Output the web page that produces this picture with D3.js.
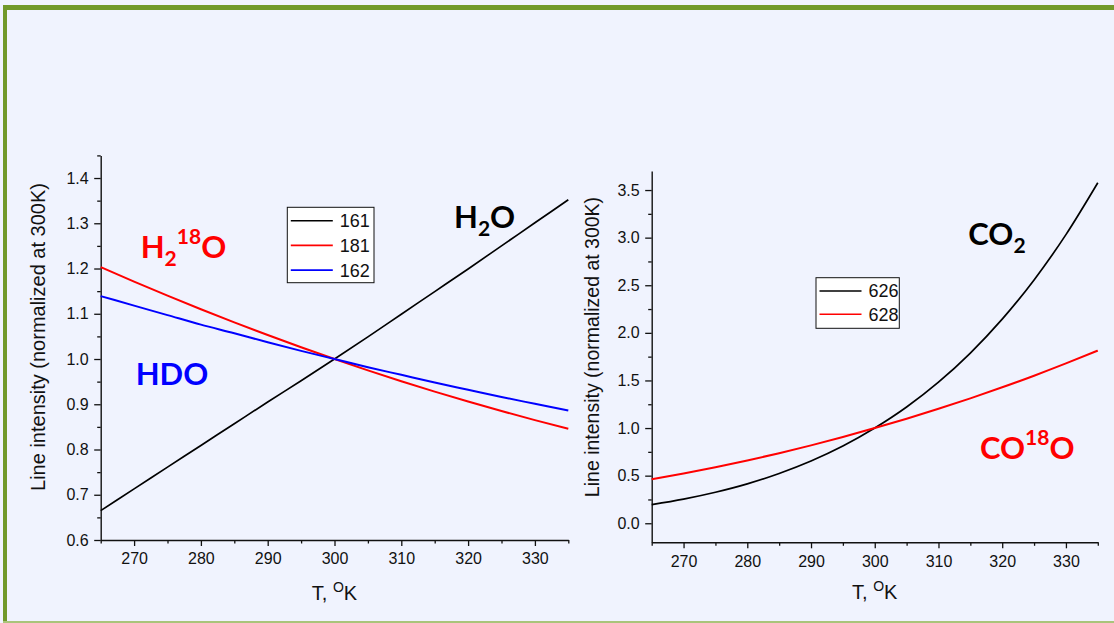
<!DOCTYPE html>
<html>
<head>
<meta charset="utf-8">
<script src="https://cdn.jsdelivr.net/npm/d3@7"></script>
<style>
  html, body { margin: 0; padding: 0; background: #f0f3fe; }
  svg { display: block; }
</style>
</head>
<body>
<svg id="chart" width="1114" height="623"></svg>
<script>
// Temperature grid, K
const temperature = [265, 270, 275, 280, 285, 290, 295, 300, 305, 310, 315, 320, 325, 330, 335];

// Water isotopologues, line intensity normalized at 300 K
const h2o161 = [0.665, 0.713, 0.761, 0.809, 0.857, 0.905, 0.952, 1.000, 1.049, 1.099, 1.149, 1.199, 1.250, 1.301, 1.352];
const h2o181 = [1.203, 1.171, 1.140, 1.110, 1.081, 1.053, 1.026, 1.000, 0.975, 0.951, 0.928, 0.906, 0.885, 0.865, 0.846];
const h2o162 = [1.139, 1.118, 1.097, 1.076, 1.057, 1.037, 1.018, 1.000, 0.982, 0.965, 0.948, 0.932, 0.916, 0.901, 0.886];

// Carbon dioxide isotopologues, line intensity normalized at 300 K
const co2626 = [0.196, 0.254, 0.326, 0.414, 0.523, 0.654, 0.811, 1.000, 1.221, 1.482, 1.788, 2.144, 2.556, 3.032, 3.577];
const co2628 = [0.463, 0.523, 0.588, 0.659, 0.736, 0.818, 0.906, 1.000, 1.098, 1.202, 1.312, 1.428, 1.550, 1.679, 1.814];

// Axis ticks
const xMajor = [270, 280, 290, 300, 310, 320, 330];
const xMinor = [265, 275, 285, 295, 305, 315, 325, 335];
const yMajorH2O = [0.6, 0.7, 0.8, 0.9, 1.0, 1.1, 1.2, 1.3, 1.4];
const yMinorH2O = [0.65, 0.75, 0.85, 0.95, 1.05, 1.15, 1.25, 1.35, 1.45];
const yMajorCO2 = [0.0, 0.5, 1.0, 1.5, 2.0, 2.5, 3.0, 3.5];
const yMinorCO2 = [0.25, 0.75, 1.25, 1.75, 2.25, 2.75, 3.25];

// Legend entries
const legendH2O = ["161", "181", "162"];
const legendCO2 = ["626", "628"];

const SANS = "'Liberation Sans', Arial, sans-serif";
const svg = d3.select("#chart");

// Slide background and frame
svg.append("rect").attr("x", 0).attr("y", 0).attr("width", 1114).attr("height", 623).attr("fill", "#f0f3fe");
svg.append("rect").attr("x", 3).attr("y", 5).attr("width", 1111).attr("height", 5).attr("fill", "#71992b");
svg.append("rect").attr("x", 3).attr("y", 5).attr("width", 4).attr("height", 618).attr("fill", "#71992b");
svg.append("rect").attr("x", 3).attr("y", 621).attr("width", 1111).attr("height", 2).attr("fill", "#a9c47a");

function drawPanel(cfg) {
  const g = svg.append("g");
  const x = d3.scaleLinear().domain([265, 335]).range(cfg.xRange);
  const y = d3.scaleLinear().domain(cfg.yDomain).range(cfg.yRange);
  const y0 = cfg.yRange[0];
  const x0 = cfg.xRange[0];

  // minor ticks
  g.append("g").attr("transform", `translate(0,${y0})`)
    .call(d3.axisBottom(x).tickValues(xMinor).tickSize(3.5).tickFormat("").tickSizeOuter(0))
    .call(a => a.select(".domain").remove());
  g.append("g").attr("transform", `translate(${x0},0)`)
    .call(d3.axisLeft(y).tickValues(cfg.yMinor).tickSize(3.5).tickFormat("").tickSizeOuter(0))
    .call(a => a.select(".domain").remove());

  // major ticks and labels
  const ax = g.append("g").attr("transform", `translate(0,${y0})`)
    .call(d3.axisBottom(x).tickValues(xMajor).tickSize(6).tickPadding(7).tickSizeOuter(0));
  const ay = g.append("g").attr("transform", `translate(${x0},0)`)
    .call(d3.axisLeft(y).tickValues(cfg.yMajor).tickSize(6.5).tickPadding(5.5).tickFormat(d3.format(".1f")).tickSizeOuter(0));
  [ax, ay].forEach(a => {
    a.selectAll("text").style("font-size", "16px").style("font-family", SANS).attr("fill", "#111");
    a.select(".domain").attr("stroke", "#111").attr("stroke-width", 1.4);
  });
  g.selectAll("line").attr("stroke", "#111").attr("stroke-width", 1.3);

  // axis titles
  const xt = g.append("text")
    .attr("x", x(300)).attr("y", cfg.xTitleY)
    .attr("text-anchor", "middle").style("font-size", "20px").style("font-family", SANS).attr("fill", "#111");
  xt.append("tspan").text("T, ");
  xt.append("tspan").style("font-size", "14px").attr("dy", -8).text("O");
  xt.append("tspan").attr("dy", 8).text("K");

  g.append("text")
    .attr("transform", `translate(${cfg.yTitleX},${cfg.yTitleY}) rotate(-90)`)
    .attr("text-anchor", "middle").style("font-size", cfg.yTitleSize + "px").style("font-family", SANS)
    .attr("fill", "#111")
    .text("Line intensity (normalized at 300K)");

  // series
  const line = d3.line().x((d, i) => x(temperature[i])).y(d => y(d)).curve(d3.curveMonotoneX);
  cfg.series.forEach(s => {
    g.append("path").datum(s.values)
      .attr("d", line)
      .attr("fill", "none").attr("stroke", s.color).attr("stroke-width", s.width);
  });

  // legend
  const L = cfg.legend;
  g.append("rect").attr("x", L.x).attr("y", L.y).attr("width", L.w).attr("height", L.h)
    .attr("fill", "#ffffff").attr("stroke", "#111").attr("stroke-width", 1);
  cfg.series.forEach((s, i) => {
    const cy = L.firstRow + i * L.step;
    g.append("line").attr("x1", L.x + 3.5).attr("x2", L.x + 3.5 + 42)
      .attr("y1", cy).attr("y2", cy).attr("stroke", s.color).attr("stroke-width", 1.6);
    g.append("text").attr("x", L.x + 52.5).attr("y", cy).attr("dy", "0.36em")
      .style("font-size", "18px").style("font-family", SANS).attr("fill", "#111").text(s.name);
  });
}

drawPanel({
  xRange: [100.7, 568.3],
  yDomain: [0.6, 1.45],
  yRange: [540, 155.4],
  yMajor: yMajorH2O,
  yMinor: yMinorH2O,
  xTitleY: 600,
  yTitleX: 45,
  yTitleY: 337,
  yTitleSize: 20,
  series: [
    { name: legendH2O[0], values: h2o161, color: "#000000", width: 1.7 },
    { name: legendH2O[1], values: h2o181, color: "#ff0000", width: 2 },
    { name: legendH2O[2], values: h2o162, color: "#0000ff", width: 2 }
  ],
  legend: { x: 287.3, y: 207.3, w: 86.7, h: 75.4, firstRow: 220.7, step: 24.7 }
});

drawPanel({
  xRange: [651.7, 1097.8],
  yDomain: [-0.2, 3.7],
  yRange: [542.3, 171],
  yMajor: yMajorCO2,
  yMinor: yMinorCO2,
  xTitleY: 599,
  yTitleX: 599,
  yTitleY: 347,
  yTitleSize: 19.5,
  series: [
    { name: legendCO2[0], values: co2626, color: "#000000", width: 1.7 },
    { name: legendCO2[1], values: co2628, color: "#ff0000", width: 2 }
  ],
  legend: { x: 816, y: 277.7, w: 83.3, h: 50.6, firstRow: 291, step: 23.3 }
});

// Molecule labels
function formula(x, y, color, parts) {
  const t = svg.append("text").attr("x", x).attr("y", y)
    .attr("fill", color)
    .style("font-weight", "bold").style("font-family", "Lato, 'Open Sans', sans-serif").style("font-size", "31px");
  let shift = 0;
  parts.forEach(p => {
    const target = p.sub ? 8 : p.sup ? -14 : 0;
    const ts = t.append("tspan").attr("dy", target - shift).text(p.t);
    if (p.sub || p.sup) ts.style("font-size", "21px");
    shift = target;
  });
}

formula(140.7, 257.7, "#ff0000", [{ t: "H" }, { t: "2", sub: true }, { t: "18", sup: true }, { t: "O" }]);
formula(454, 227.7, "#000000", [{ t: "H" }, { t: "2", sub: true }, { t: "O" }]);
formula(135.7, 385.3, "#0000ff", [{ t: "HDO" }]);
formula(968.3, 245, "#000000", [{ t: "CO" }, { t: "2", sub: true }]);
formula(980, 459, "#ff0000", [{ t: "CO" }, { t: "18", sup: true }, { t: "O" }]);
</script>
</body>
</html>
